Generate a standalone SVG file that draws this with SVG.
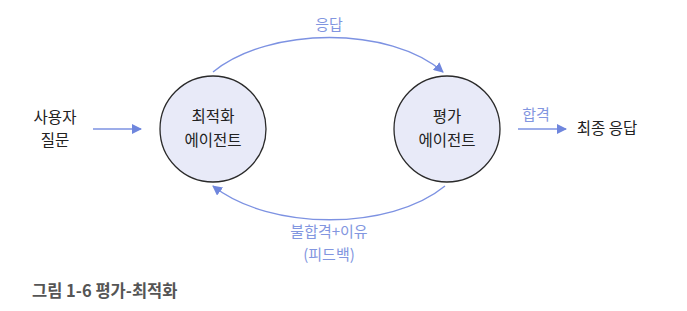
<svg xmlns="http://www.w3.org/2000/svg" width="687" height="311" viewBox="0 0 687 311">
<style>
.node{fill:#e8eaf8;stroke:#2a2a2a;stroke-width:1.3}
.t{font-family:"Noto Sans CJK KR","Noto Sans",sans-serif;font-size:15.5px;fill:#222;text-anchor:middle}
.lb{font-family:"Noto Sans CJK KR","Noto Sans",sans-serif;font-size:15px;fill:#8296e0;text-anchor:middle}
.c{fill:none;stroke:#7d92e2;stroke-width:1.4}
.cap{font-family:"Noto Sans CJK KR","Noto Sans",sans-serif;font-size:16.5px;font-weight:bold;fill:#555}
</style>
<defs>
<marker id="ah" viewBox="0 0 10 10" refX="9" refY="5" markerWidth="10" markerHeight="10" markerUnits="userSpaceOnUse" orient="auto">
<path d="M0,0 L10,5 L0,10 z" fill="#6f86dd"/>
</marker>
</defs>
<rect width="687" height="311" fill="#fff"/>
<g id="connectors">
<line class="c" x1="93" y1="129" x2="141" y2="129" marker-end="url(#ah)"/>
<line class="c" x1="518" y1="129" x2="566" y2="129" marker-end="url(#ah)"/>
<path class="c" d="M213,72 C270,26 390,26 443,72" marker-end="url(#ah)"/>
<path class="c" d="M445,186 C390,231 270,231 213,186" marker-end="url(#ah)"/>
<text class="lb" x="329" y="30">응답</text>
<text class="lb" x="536" y="120">합격</text>
<text class="lb" x="329" y="237">불합격+이유</text>
<text class="lb" x="329" y="260">(피드백)</text>
</g>
<g id="user">
<text class="t" x="55" y="123">사용자</text>
<text class="t" x="55" y="146">질문</text>
</g>
<g id="optimizer">
<circle class="node" cx="213" cy="129" r="53"/>
<text class="t" x="213" y="122">최적화</text>
<text class="t" x="213" y="146">에이전트</text>
</g>
<g id="evaluator">
<circle class="node" cx="447" cy="129" r="53"/>
<text class="t" x="447" y="122">평가</text>
<text class="t" x="447" y="146">에이전트</text>
</g>
<g id="final">
<text class="t" x="607" y="134">최종 응답</text>
</g>
<text class="cap" x="32" y="297">그림 1-6 평가-최적화</text>
</svg>
